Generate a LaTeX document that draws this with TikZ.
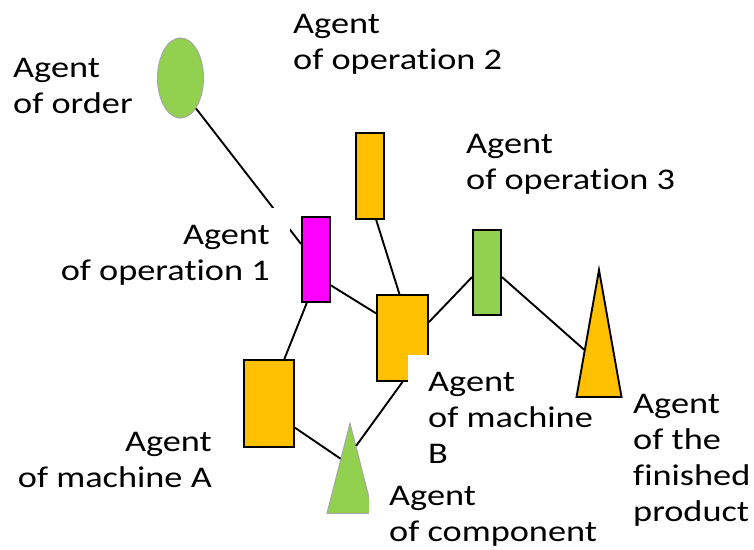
\documentclass[tikz,border=0pt]{standalone}
\usepackage{fontspec}
\setmainfont{Carlito}
\newfontfamily\agentfont{Carlito}[FakeStretch=1.21,Ligatures={NoCommon}]
\usetikzlibrary{shapes.geometric,calc}
\definecolor{agorange}{RGB}{255,192,0}
\definecolor{aggreen}{RGB}{146,208,80}
\definecolor{agmagenta}{RGB}{255,0,255}

\begin{document}
\begin{tikzpicture}[x=1pt,y=-1pt,
  box/.style={draw=black,line width=1.9pt,inner sep=0pt},
  tri/.style={isosceles triangle,isosceles triangle stretches,shape border rotate=90,inner sep=0pt,anchor=apex},
  lbl/.style={font=\agentfont\fontsize{30}{36}\selectfont,inner xsep=20pt,inner ysep=17pt},
  cover/.style={fill=white},
  link/.style={line width=1.9pt}]

\useasboundingbox (0,0) rectangle (754,549);

% Agents
\node[ellipse,draw=gray!70,line width=1pt,fill=aggreen,minimum width=46pt,minimum height=80pt,inner sep=0pt] (order) at (180.5,78) {};
\node[box,fill=agorange,minimum width=28pt,minimum height=86pt] (op2) at (370,176) {};
\node[box,fill=agmagenta,minimum width=28pt,minimum height=85pt] (op1) at (316,259.5) {};
\node[box,fill=agorange,minimum width=51pt,minimum height=86pt] (mB) at (402.5,338) {};
\node[box,fill=agorange,minimum width=50pt,minimum height=87pt] (mA) at (269,403.5) {};
\node[box,fill=aggreen,minimum width=28pt,minimum height=85pt] (op3) at (487,272.5) {};
\node[tri,draw=gray!70,line width=1pt,fill=aggreen,minimum height=90pt,minimum width=46pt] (comp) at (350,422) {};

% Links
\draw[link] (order.-63) -- (op1.134);
\draw[link] (op2.-82) -- (mB.94);
\draw[link] (op1.-60) -- (mB.137);
\draw[link] (op1.-102) -- (mA.71);
\draw[link] (mB.31) -- (op3.-163);
\draw[link] (mA.-43) -- ($(comp.apex)!0.4!(comp.left corner)$);
\draw[link] ($(comp.apex)!0.26!(comp.right corner)$) -- (mB.south);

% Labels
\node[lbl,align=left,anchor=base west] (lorder) at (-7,113) {Agent\\of order};
\node[lbl,align=left,anchor=base west] (lop2) at (273,69) {Agent\\of operation 2};
\node[lbl,align=left,anchor=base west] (lop3) at (446,189) {Agent\\of operation 3};
\node[lbl,cover,align=right,anchor=base east] (lop1) at (290,280) {Agent\\of operation 1};
\node[lbl,cover,align=left,anchor=base west] (lmB) at (408,463) {Agent\\of machine\\B};
\node[lbl,cover,align=left,anchor=base west] (lcomp) at (369,541) {Agent\\of component};
\node[lbl,align=left,anchor=base west] (lfin) at (613,521) {Agent\\of the\\finished\\product};
\node[lbl,align=right,anchor=base east] (lmA) at (232,487) {Agent\\of machine A};

% finished product, drawn over the label boxes
\node[tri,draw=black,line width=1.9pt,fill=agorange,minimum height=127pt,minimum width=45pt] (fin) at (599,267.5) {};
\draw[link] (op3.-17) -- ($(fin.apex)!0.63!(fin.left corner)$);

\end{tikzpicture}
\end{document}
